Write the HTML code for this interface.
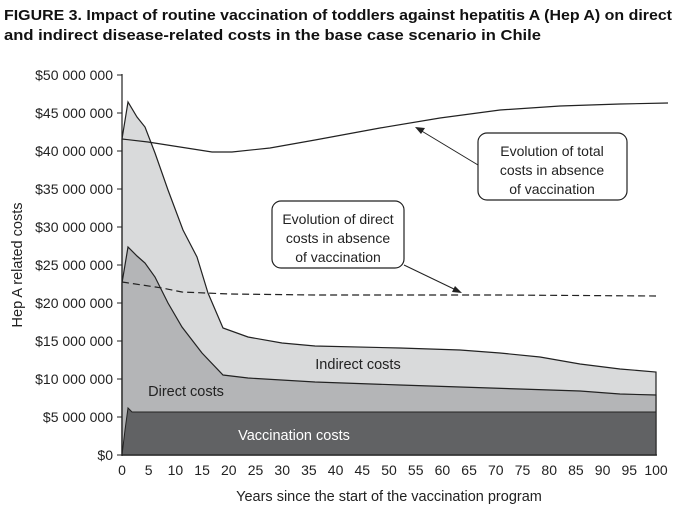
<!DOCTYPE html>
<html><head><style>
body{margin:0;background:#fff;}
svg{display:block;font-family:"Liberation Sans",Arial,sans-serif;}
</style></head><body>
<svg width="675" height="513" viewBox="0 0 675 513" xmlns="http://www.w3.org/2000/svg">
<text x="4" y="20" font-size="15" font-weight="bold" fill="#111" textLength="668" lengthAdjust="spacingAndGlyphs">FIGURE 3. Impact of routine vaccination of toddlers against hepatitis A (Hep A) on direct</text>
<text x="4" y="40" font-size="15" font-weight="bold" fill="#111" textLength="537" lengthAdjust="spacingAndGlyphs">and indirect disease-related costs in the base case scenario in Chile</text>
<!-- indirect area -->
<path d="M122,139 L128,102 L137,117 L145,127 L155,153 L168,190 L183,230 L197,257 L208,293 L223,328 L248,337 L282,343 L315,346 L400,348 L460,350 L500,353 L540,357 L580,364 L620,369 L656,372 L656,455 L122,455Z" fill="#d9dadb" stroke="#222" stroke-width="1.2"/>
<!-- direct area -->
<path d="M122,283 L128,247 L137,256 L145,263 L155,277 L168,303 L182,327 L202,353 L223,375 L248,378 L315,382 L400,385 L460,387 L520,389 L580,391 L620,394 L656,395 L656,455 L122,455Z" fill="#b4b5b7" stroke="#222" stroke-width="1.2"/>
<!-- vaccination -->
<path d="M122,455 L125,430 L128,408 L132,412 L656,412 L656,455Z" fill="#616264" stroke="#222" stroke-width="1"/>
<!-- total no vaccination -->
<path d="M122,139 L148,142 L180,147 L212,152 L232,152 L270,148 L315,140 L380,128 L440,118 L500,110 L560,106 L620,104 L668,103" fill="none" stroke="#222" stroke-width="1.2"/>
<!-- direct no vaccination -->
<path d="M122,282 L162,288 L182,292 L230,294 L315,295 L400,295 L500,295 L656,296" fill="none" stroke="#222" stroke-width="1.2" stroke-dasharray="7,4"/>
<!-- axes -->
<line x1="122" y1="74" x2="122" y2="456" stroke="#222" stroke-width="1.2"/>
<line x1="122" y1="455" x2="657" y2="455" stroke="#222" stroke-width="1.2"/>
<g stroke="#222" stroke-width="1">
<line x1="117" y1="75" x2="122" y2="75"/><line x1="117" y1="113" x2="122" y2="113"/><line x1="117" y1="151" x2="122" y2="151"/><line x1="117" y1="189" x2="122" y2="189"/><line x1="117" y1="227" x2="122" y2="227"/><line x1="117" y1="265" x2="122" y2="265"/><line x1="117" y1="303" x2="122" y2="303"/><line x1="117" y1="341" x2="122" y2="341"/><line x1="117" y1="379" x2="122" y2="379"/><line x1="117" y1="417" x2="122" y2="417"/><line x1="117" y1="455" x2="122" y2="455"/>
</g>
<g font-size="14" fill="#222" text-anchor="end">
<text x="113" y="80">$50 000 000</text><text x="113" y="118">$45 000 000</text><text x="113" y="156">$40 000 000</text><text x="113" y="194">$35 000 000</text><text x="113" y="232">$30 000 000</text><text x="113" y="270">$25 000 000</text><text x="113" y="308">$20 000 000</text><text x="113" y="346">$15 000 000</text><text x="113" y="384">$10 000 000</text><text x="113" y="422">$5 000 000</text><text x="113" y="460">$0</text>
</g>
<g font-size="14" fill="#222" text-anchor="middle">
<text x="122" y="475">0</text><text x="148.7" y="475">5</text><text x="175.4" y="475">10</text><text x="202.1" y="475">15</text><text x="228.8" y="475">20</text><text x="255.5" y="475">25</text><text x="282.2" y="475">30</text><text x="308.9" y="475">35</text><text x="335.6" y="475">40</text><text x="362.3" y="475">45</text><text x="389" y="475">50</text><text x="415.7" y="475">55</text><text x="442.4" y="475">60</text><text x="469.1" y="475">65</text><text x="495.8" y="475">70</text><text x="522.5" y="475">75</text><text x="549.2" y="475">80</text><text x="575.9" y="475">85</text><text x="602.6" y="475">90</text><text x="629.3" y="475">95</text><text x="656" y="475">100</text>
</g>
<text x="389" y="501" font-size="14.5" fill="#222" text-anchor="middle">Years since the start of the vaccination program</text>
<text transform="translate(22,265) rotate(-90)" font-size="14.5" fill="#222" text-anchor="middle">Hep A related costs</text>
<text x="358" y="369" font-size="14.5" fill="#222" text-anchor="middle">Indirect costs</text>
<text x="186" y="396" font-size="14.5" fill="#222" text-anchor="middle">Direct costs</text>
<text x="294" y="440" font-size="14.5" fill="#fff" text-anchor="middle">Vaccination costs</text>
<!-- callouts -->
<rect x="478" y="133" width="149" height="67" rx="9" fill="#fff" stroke="#222" stroke-width="1.2"/>
<g font-size="14" fill="#222" text-anchor="middle"><text x="552" y="156">Evolution of total</text><text x="552" y="175">costs in absence</text><text x="552" y="194">of vaccination</text></g>
<rect x="272" y="201" width="132" height="67" rx="9" fill="#fff" stroke="#222" stroke-width="1.2"/>
<g font-size="14" fill="#222" text-anchor="middle"><text x="338" y="224">Evolution of direct</text><text x="338" y="243">costs in absence</text><text x="338" y="262">of vaccination</text></g>
<line x1="478" y1="165" x2="420" y2="130" stroke="#222" stroke-width="1"/>
<path d="M415,127 L425,128 L421,134Z" fill="#222"/>
<line x1="404" y1="265" x2="456" y2="290" stroke="#222" stroke-width="1"/>
<path d="M462,293 L452,292 L455,286Z" fill="#222"/>
</svg>
</body></html>
